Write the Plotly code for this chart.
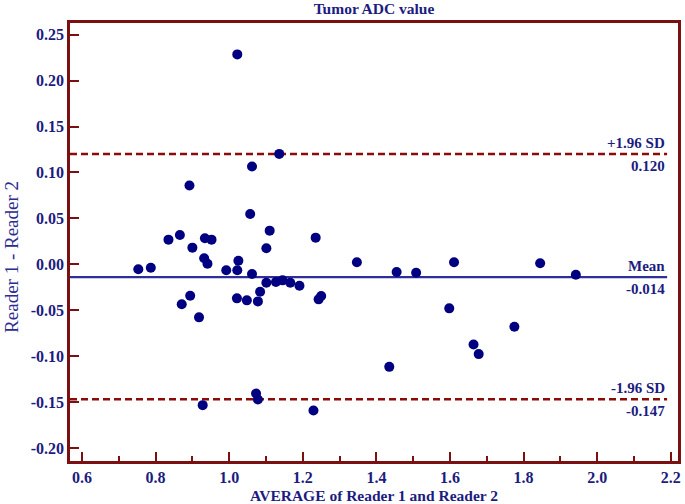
import plotly.graph_objects as go

# Bland-Altman data
avg_values = [0.753, 0.787, 0.835, 0.866, 0.871, 0.892, 0.900, 0.894, 0.918, 0.934,
              0.952, 0.932, 0.941, 0.928, 1.022, 0.992, 1.022, 1.025, 1.021, 1.048,
              1.062, 1.057, 1.062, 1.073, 1.078, 1.078, 1.084, 1.101, 1.110, 1.101,
              1.127, 1.136, 1.145, 1.166, 1.191, 1.235, 1.243, 1.250, 1.229, 1.347,
              1.455, 1.508, 1.435, 1.598, 1.611, 1.664, 1.678, 1.775, 1.845, 1.942]
diff_values = [-0.0055, -0.0037, 0.0268, 0.0319, -0.0436, 0.0857, 0.0181, -0.0343, -0.0578, 0.0283,
               0.0268, 0.0065, 0.0006, -0.1534, 0.2285, -0.0066, -0.0066, 0.0039, -0.0371, -0.0393,
               0.1064, 0.0548, -0.0106, -0.1407, -0.1472, -0.0404, -0.0299, 0.0174, 0.0366, -0.0201,
               -0.0193, 0.1202, -0.0175, -0.0201, -0.0234, 0.0290, -0.0382, -0.0346, -0.1592, 0.0022,
               -0.0084, -0.0092, -0.1117, -0.0480, 0.0022, -0.0873, -0.0978, -0.0681, 0.0011, -0.0114]

mean_diff = -0.014
upper_loa = 0.120
lower_loa = -0.147

x_ticks = [0.6, 0.8, 1.0, 1.2, 1.4, 1.6, 1.8, 2.0, 2.2]
y_ticks = [-0.20, -0.15, -0.10, -0.05, 0.00, 0.05, 0.10, 0.15, 0.20, 0.25]

FRAME = '#7a1010'
NAVY = '#000080'
TEXT = '#1c1c80'
FONT = 'Liberation Serif'

x_range = [0.5674, 2.2196]
line_end = 2.19

fig = go.Figure()

fig.add_trace(
    go.Scatter(x=avg_values,
               y=diff_values,
               mode='markers',
               marker=dict(size=10, color=NAVY, line=dict(width=0)),
               showlegend=False))

# Mean and limits of agreement
fig.add_shape(type='line', xref='x', yref='y', x0=x_range[0], x1=line_end,
              y0=mean_diff, y1=mean_diff, layer='below',
              line=dict(color='#2e2e9a', width=2.2))
for val in (upper_loa, lower_loa):
    fig.add_shape(type='line', xref='x', yref='y', x0=x_range[0], x1=line_end,
                  y0=val, y1=val, layer='below',
                  line=dict(color='#8b0a0a', width=2.4, dash='7px,4px'))

labels = [
    ('+1.96 SD', f'{upper_loa:.3f}', upper_loa),
    ('Mean', f'{mean_diff:.3f}', mean_diff),
    ('-1.96 SD', f'{lower_loa:.3f}', lower_loa),
]
for top_text, bottom_text, val in labels:
    fig.add_annotation(x=line_end, y=val, xref='x', yref='y', text=f'<b>{top_text}</b>',
                       showarrow=False, xanchor='right', yanchor='bottom', yshift=1,
                       font=dict(family=FONT, size=15, color=TEXT))
    fig.add_annotation(x=line_end, y=val, xref='x', yref='y', text=f'<b>{bottom_text}</b>',
                       showarrow=False, xanchor='right', yanchor='top', yshift=-2,
                       font=dict(family=FONT, size=15, color=TEXT))

# axis titles, placed by hand like in the original
fig.add_annotation(x=-58 / 608, y=0.466, xref='paper', yref='paper', text='Reader 1 - Reader 2',
                   showarrow=False, textangle=-90, xanchor='center', yanchor='middle',
                   font=dict(family=FONT, size=19, color='#2b2b90'))
fig.add_annotation(x=0.5, y=-34 / 438, xref='paper', yref='paper',
                   text='<b>AVERAGE of Reader 1 and Reader 2</b>',
                   showarrow=False, xanchor='center', yanchor='middle',
                   font=dict(family=FONT, size=15.5, color=TEXT))

fig.update_layout(
    width=685,
    height=504,
    margin=dict(l=70, r=7, t=23, b=43),
    plot_bgcolor='white',
    paper_bgcolor='white',
    title=dict(text='<b>Tumor ADC value</b>', x=0.5, xref='paper', xanchor='center',
               y=1 - 9 / 504, yref='container', yanchor='middle',
               font=dict(family=FONT, size=15.5, color=TEXT)),
    xaxis=dict(range=x_range,
               tickvals=x_ticks,
               ticktext=[f'<b>{v:.1f}</b>' for v in x_ticks],
               ticks='inside', ticklen=9, tickwidth=2, tickcolor=FRAME,
               minor=dict(dtick=0.1, tick0=0.6, ticks='inside', ticklen=5,
                          tickwidth=2, tickcolor=FRAME, showgrid=False),
               showline=True, linecolor=FRAME, linewidth=2.5, mirror=True,
               showgrid=False, zeroline=False, automargin=False,
               tickfont=dict(family=FONT, size=16, color=TEXT)),
    yaxis=dict(range=[-0.2142, 0.2627],
               tickvals=y_ticks,
               ticktext=[f'<b>{v:.2f}</b>' for v in y_ticks],
               ticks='inside', ticklen=9, tickwidth=2, tickcolor=FRAME,
               showline=True, linecolor=FRAME, linewidth=2.5, mirror=True,
               showgrid=False, zeroline=False, automargin=False,
               tickfont=dict(family=FONT, size=16, color=TEXT)),
)

# the page body has a default margin; drop it so the figure sits at the window corner
fig.write_html("out.html", config={'displayModeBar': False},
               post_script="document.body.style.margin='0';")
